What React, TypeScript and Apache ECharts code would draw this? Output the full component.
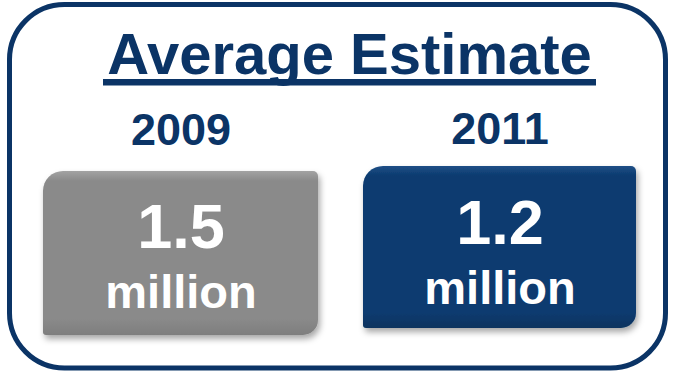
import React, { useEffect, useRef } from "react";
import * as echarts from "echarts";

const titleText = "Average Estimate";
const years = ["2009", "2011"];
const values = [1.5, 1.2];
const unitLabel = "million";

const NAVY = "#0b3466";
const FONT = "'Liberation Sans', Arial, sans-serif";

export default function App() {
  const ref = useRef<HTMLDivElement>(null);
  useEffect(() => {
    if (!ref.current) return;
    const chart = echarts.init(ref.current, undefined, { renderer: "svg" });

    const boxes = [
      { x: 43, y: 171, w: 275, h: 164, top: "#a3a3a3", main: "#8a8a8a", bot: "#7e7e7e", numY: 226, unitY: 291, cx: 181, yearY: 129 },
      { x: 363, y: 166, w: 273, h: 162, top: "#1f4f86", main: "#0b3b70", bot: "#08335f", numY: 222, unitY: 287, cx: 500, yearY: 128 },
    ];

    const elements: any[] = [
      {
        type: "rect",
        shape: { x: 9.5, y: 4.5, width: 656, height: 363.5, r: 55 },
        style: { fill: "#ffffff", stroke: NAVY, lineWidth: 5 },
      },
      {
        type: "text",
        x: 349.5,
        y: 53,
        style: {
          text: titleText,
          fill: NAVY,
          font: `bold 58px ${FONT}`,
          align: "center",
          verticalAlign: "middle",
        },
      },
      {
        type: "rect",
        shape: { x: 103, y: 79, width: 493, height: 6.5 },
        style: { fill: NAVY },
      },
    ];

    years.forEach((yr, i) => {
      const b = boxes[i];
      elements.push({
        type: "text",
        x: b.cx,
        y: b.yearY,
        style: {
          text: yr,
          fill: NAVY,
          font: `bold 45px ${FONT}`,
          align: "center",
          verticalAlign: "middle",
        },
      });
      elements.push({
        type: "rect",
        shape: { x: b.x, y: b.y, width: b.w, height: b.h, r: [20, 5, 15, 3] },
        style: {
          fill: new echarts.graphic.LinearGradient(0, 0, 0, 1, [
            { offset: 0, color: b.top },
            { offset: 0.06, color: b.main },
            { offset: 0.9, color: b.main },
            { offset: 1, color: b.bot },
          ]),
          shadowBlur: 6,
          shadowOffsetX: 2,
          shadowOffsetY: 4,
          shadowColor: "rgba(0,0,0,0.35)",
        },
      });
      elements.push({
        type: "text",
        x: b.cx,
        y: b.numY,
        style: {
          text: values[i].toFixed(1),
          fill: "#ffffff",
          font: `bold 63px ${FONT}`,
          align: "center",
          verticalAlign: "middle",
        },
      });
      elements.push({
        type: "text",
        x: b.cx,
        y: b.unitY,
        style: {
          text: unitLabel,
          fill: "#ffffff",
          font: `bold 47px ${FONT}`,
          align: "center",
          verticalAlign: "middle",
        },
      });
    });

    chart.setOption({
      animation: false,
      backgroundColor: "#ffffff",
      graphic: { elements },
    });
    return () => chart.dispose();
  }, []);
  return (
    <div
      ref={ref}
      style={{ position: "fixed", left: 0, top: 0, width: 673, height: 373 }}
    />
  );
}
